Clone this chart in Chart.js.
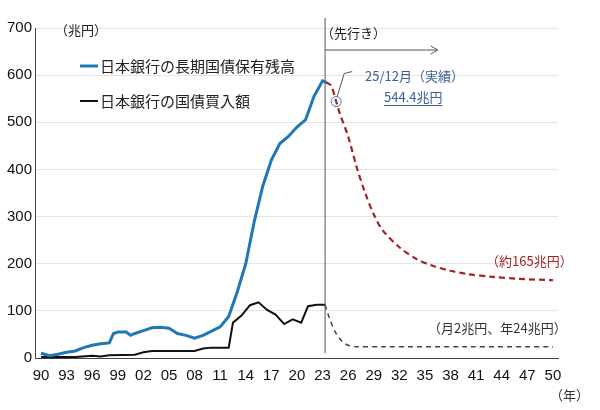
<!DOCTYPE html>
<html>
<head>
<meta charset="utf-8">
<script src="https://cdn.jsdelivr.net/npm/chart.js@4"></script>
<style>
  body { margin: 0; background: #fff; }
</style>
</head>
<body>
<canvas id="chart" width="600" height="410"></canvas>
<script>
"use strict";

// 日本銀行の長期国債保有残高（実績）
const holdYears = [1990, 1991, 1992, 1993, 1994, 1995, 1996, 1997, 1998, 1998.5, 1999, 2000, 2000.5, 2001, 2002, 2003, 2004, 2005, 2006, 2007, 2008, 2009, 2010, 2011, 2012, 2013, 2014, 2015, 2016, 2017, 2018, 2019, 2020, 2021, 2022, 2023, 2023.4];
const holdValues = [10, 5, 8, 12, 15, 22, 27, 30, 32, 52, 55, 55, 48, 52, 58, 64, 65, 63, 52, 48, 42, 48, 57, 66, 88, 140, 200, 290, 365, 420, 455, 470, 490, 505, 555, 588, 585];
// 先行き（保有残高）
const holdFcYears = [2023.4, 2024, 2024.6, 2025, 2026, 2027, 2028, 2029, 2030, 2032, 2034, 2036, 2038, 2040, 2043, 2046, 2050];
const holdFcValues = [585, 578, 544, 520, 470, 405, 350, 305, 272, 235, 210, 195, 185, 178, 172, 168, 165];
// 日本銀行の国債買入額
const buyYears = [1990, 1994, 1996, 1997, 1998, 2001, 2002, 2003, 2008, 2009, 2010, 2012, 2012.5, 2013.5, 2014.5, 2015.5, 2016.5, 2017.5, 2018.5, 2019.5, 2020.5, 2021.3, 2022.3, 2023.3];
const buyValues = [2, 2, 5, 3, 6, 7, 12, 15, 15, 20, 22, 22, 75, 90, 112, 118, 102, 92, 72, 82, 75, 110, 113, 113];
const buyFcYears = [2023.3, 2023.8, 2024.5, 2025.3, 2026, 2027, 2030, 2040, 2050];
const buyFcValues = [113, 85, 55, 35, 27, 24, 24, 24, 24];

const splitYear = 2023.3;
const toPts = (xs, ys) => xs.map((x, i) => ({ x: x, y: ys[i] }));
const jp = '"Noto Sans CJK JP", "Noto Sans", sans-serif';

const overlay = {
  id: "overlay",
  afterDatasetsDraw(chart) {
    const { ctx, scales: { x, y } } = chart;
    ctx.save();
    // 区切り線
    const sx = x.getPixelForValue(splitYear);
    ctx.strokeStyle = "#555"; ctx.lineWidth = 1;
    ctx.beginPath(); ctx.moveTo(sx, 18); ctx.lineTo(sx, y.getPixelForValue(10)); ctx.stroke();
    // 矢印
    const ay = 50, ax = x.getPixelForValue(2036.5);
    ctx.beginPath(); ctx.moveTo(sx, ay); ctx.lineTo(ax, ay);
    ctx.moveTo(ax - 7, ay - 4); ctx.lineTo(ax, ay); ctx.lineTo(ax - 7, ay + 4); ctx.stroke();
    ctx.font = "13px " + jp; ctx.fillStyle = "#222"; ctx.textBaseline = "middle";
    ctx.fillText("（先行き）", sx - 4, 33);
    ctx.fillText("（兆円）", 55, 30);
    // 凡例
    ctx.font = "15px " + jp;
    ctx.lineWidth = 3; ctx.strokeStyle = "#1f77b4";
    ctx.beginPath(); ctx.moveTo(80, 66); ctx.lineTo(98, 66); ctx.stroke();
    ctx.fillText("日本銀行の長期国債保有残高", 100, 66);
    ctx.lineWidth = 2; ctx.strokeStyle = "#111";
    ctx.beginPath(); ctx.moveTo(80, 101); ctx.lineTo(98, 101); ctx.stroke();
    ctx.fillText("日本銀行の国債買入額", 100, 101);
    // 実績マーカー
    const cx = x.getPixelForValue(2024.6), cy = y.getPixelForValue(544);
    ctx.lineWidth = 1; ctx.strokeStyle = "#2a7ab8";
    ctx.beginPath(); ctx.arc(cx, cy, 5, 0, Math.PI * 2); ctx.stroke();
    ctx.strokeStyle = "#555";
    ctx.beginPath(); ctx.moveTo(cx + 1, cy - 5); ctx.lineTo(cx + 8, cy - 28); ctx.lineTo(cx + 16, cy - 30); ctx.stroke();
    ctx.font = "13px " + jp; ctx.fillStyle = "#3a5f9a";
    ctx.fillText("25/12月（実績）", 365, 76);
    ctx.fillText("544.4兆円", 384, 97);
    const w = ctx.measureText("544.4兆円").width;
    ctx.fillRect(384, 105, w, 1);
    ctx.fillStyle = "#a52222";
    ctx.fillText("（約165兆円）", 486, 261);
    ctx.fillStyle = "#333";
    ctx.fillText("（月2兆円、年24兆円）", 428, 328);
    ctx.fillText("（年）", 550, 395);
    ctx.restore();
  }
};

new Chart(document.getElementById("chart"), {
  type: "line",
  data: {
    datasets: [
      { data: toPts(holdYears, holdValues), borderColor: "#1f77b4", borderWidth: 3 },
      { data: toPts(holdFcYears, holdFcValues), borderColor: "#a52222", borderWidth: 2.2, borderDash: [6, 4], tension: 0.3 },
      { data: toPts(buyYears, buyValues), borderColor: "#111", borderWidth: 2 },
      { data: toPts(buyFcYears, buyFcValues), borderColor: "#444", borderWidth: 1.5, borderDash: [5, 4], tension: 0.3 }
    ]
  },
  options: {
    responsive: false,
    animation: false,
    devicePixelRatio: 1,
    layout: { padding: { top: 28, right: 42, bottom: 22, left: 4 } },
    elements: { point: { radius: 0 }, line: { tension: 0 } },
    plugins: { legend: { display: false }, tooltip: { enabled: false } },
    scales: {
      x: {
        type: "linear", min: 1989.3, max: 2050.6,
        afterBuildTicks(axis) {
          const t = [];
          for (let yr = 1990; yr <= 2050; yr += 3) t.push({ value: yr });
          axis.ticks = t;
        },
        ticks: {
          autoSkip: false, maxRotation: 0, color: "#111",
          font: { size: 15, family: "Liberation Sans Narrow, Arial, sans-serif" },
          callback: v => String(v % 100).padStart(2, "0")
        },
        grid: { display: false, drawTicks: true, tickLength: 6 },
        border: { color: "#444" }
      },
      y: {
        min: 0, max: 700,
        ticks: { stepSize: 100, color: "#111", font: { size: 15, family: "Liberation Sans Narrow, Arial, sans-serif" } },
        grid: { color: "#e4e4e4", drawTicks: false, tickLength: 0 },
        border: { color: "#444" }
      }
    }
  },
  plugins: [overlay]
});
</script>
</body>
</html>
